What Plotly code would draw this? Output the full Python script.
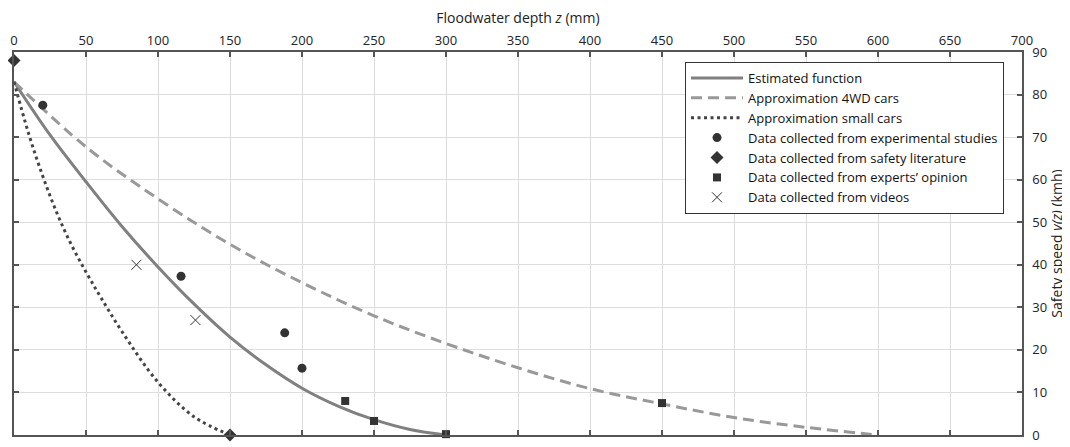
import plotly.graph_objects as go

# Estimated function
est_z = [0, 25, 50, 75, 100, 125, 150, 175, 200, 225, 250, 275, 300]
est_v = [83, 70.5, 59.5, 49, 39.5, 30.8, 23, 16.5, 11, 6.8, 3.6, 1.3, 0]

# Approximation 4WD cars
wd_z = [0, 50, 100, 150, 200, 250, 300, 350, 400, 450, 500, 550, 600]
wd_v = [83, 67.7, 55.5, 44.8, 35.8, 28, 21.5, 15.8, 10.9, 7.3, 4.1, 1.8, 0]

# Approximation small cars
sc_z = [0, 10, 20, 30, 40, 50, 60, 75, 100, 125, 150]
sc_v = [83, 71, 60.8, 52, 44.6, 38.3, 32.5, 24.3, 12.4, 4.3, 0]

# Data points
exp_z = [20, 116, 188, 200]
exp_v = [77.5, 37.3, 24, 15.7]
lit_z = [0, 150]
lit_v = [88, 0]
opn_z = [230, 250, 300, 450]
opn_v = [8, 3.3, 0.2, 7.5]
vid_z = [85, 126]
vid_v = [40, 27]

x_ticks = list(range(0, 701, 50))
y_ticks = list(range(0, 91, 10))

FONT = "Open Sans"
mk = "#333333"

fig = go.Figure()
fig.add_trace(go.Scatter(x=est_z, y=est_v, mode="lines", name="Estimated function",
                         line=dict(color="#808080", width=3, shape="spline")))
fig.add_trace(go.Scatter(x=wd_z, y=wd_v, mode="lines", name="Approximation 4WD cars",
                         line=dict(color="#999999", width=3, dash="11px,6px", shape="spline")))
fig.add_trace(go.Scatter(x=sc_z, y=sc_v, mode="lines", name="Approximation small cars",
                         line=dict(color="#444444", width=3, dash="3px,3.5px", shape="spline")))
fig.add_trace(go.Scatter(x=exp_z, y=exp_v, mode="markers", name="Data collected from experimental studies",
                         marker=dict(symbol="circle", size=9, color=mk)))
fig.add_trace(go.Scatter(x=lit_z, y=lit_v, mode="markers", name="Data collected from safety literature",
                         marker=dict(symbol="diamond", size=10, color=mk), cliponaxis=False))
fig.add_trace(go.Scatter(x=opn_z, y=opn_v, mode="markers", name="Data collected from experts\u2019 opinion",
                         marker=dict(symbol="square", size=8, color=mk), cliponaxis=False))
fig.add_trace(go.Scatter(x=vid_z, y=vid_v, mode="markers", name="Data collected from videos",
                         marker=dict(symbol="x-thin", size=10, color=mk, line=dict(color=mk, width=1))))

axis_common = dict(showline=True, linecolor="#555555", linewidth=1.5, mirror="ticks",
                   ticks="inside", ticklen=5, tickcolor="#555555", tickwidth=1.5,
                   showgrid=True, gridcolor="#dddddd", gridwidth=1, zeroline=False,
                   automargin=False,
                   tickfont=dict(family=FONT, size=13, color="#222222"))

# the page body has an 8px margin, so the figure is sized to fill the rest of the window
fig.update_layout(
    width=1062, height=439,
    margin=dict(l=6, r=48, t=44, b=12),
    paper_bgcolor="white", plot_bgcolor="white",
    font=dict(family=FONT, size=13, color="#222222"),
    xaxis=dict(range=[0, 700], tickvals=x_ticks, side="top", ticklabelstandoff=0,
               title=dict(text="Floodwater depth <i>z</i> (mm)", standoff=8,
                          font=dict(family=FONT, size=14)),
               **axis_common),
    yaxis=dict(range=[0, 90], tickvals=y_ticks, side="right", ticklabelstandoff=6,
               title=dict(text="Safety speed <i>v(z)</i> (kmh)", standoff=4,
                          font=dict(family=FONT, size=14)),
               **axis_common),
    legend=dict(x=0.6657, y=0.974, xanchor="left", yanchor="top",
                bordercolor="#333333", borderwidth=1, bgcolor="white",
                font=dict(family=FONT, size=13, color="#111111"),
                tracegroupgap=0, itemwidth=52),
    showlegend=True,
)

fig.write_html("out.html")
